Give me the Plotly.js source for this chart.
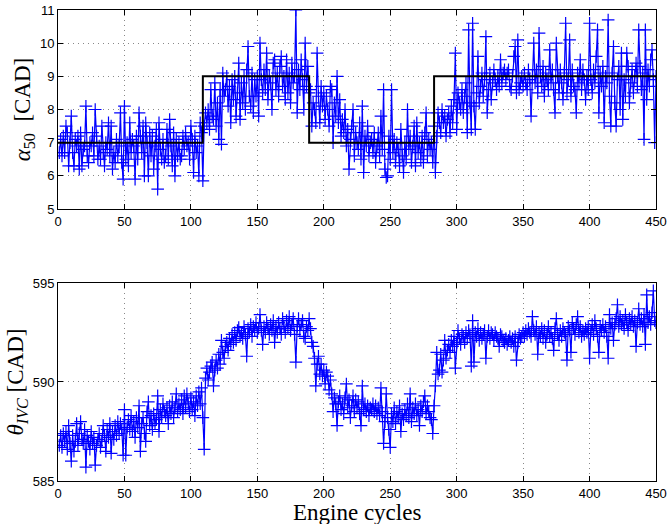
<!DOCTYPE html>
<html>
<head>
<meta charset="utf-8">
<script src="https://cdn.plot.ly/plotly-3.0.1.min.js"></script>
<style>html,body{margin:0;padding:0;background:#fff;}#chart{width:668px;height:524px;}</style>
</head>
<body>
<div id="chart"></div>
<script>
// Engine cycle index 1..450
const cycles = Array.from({length: 450}, (_, i) => i + 1);

// Measured alpha50 [CAD]
const alpha50 = [
6.7,7.1,6.6,7.2,6.7,7.5,7.3,6.3,7.0,7.8,
6.7,6.3,7.1,6.9,7.2,6.2,7.3,6.3,6.8,6.9,
8.1,6.6,6.4,7.0,6.9,7.3,6.6,8.0,7.2,6.5,
6.9,6.5,7.5,6.7,6.3,7.0,6.8,7.6,6.6,7.5,
6.2,6.7,6.4,7.1,6.6,6.9,7.9,6.4,5.9,8.1,
6.5,7.0,6.3,7.6,6.7,7.1,6.9,5.9,7.2,6.5,
7.9,7.2,6.7,7.5,6.0,7.6,7.0,6.0,7.3,6.6,
7.2,6.2,6.9,7.4,5.6,7.6,6.8,6.5,7.1,6.4,
6.6,7.4,6.5,7.7,6.9,6.3,7.3,6.0,7.1,6.6,
7.0,6.5,6.6,7.2,6.8,7.3,6.9,7.0,6.5,7.5,
7.1,6.1,7.2,6.7,6.9,6.0,7.6,7.3,5.85,7.5,
7.9,7.6,8.0,7.4,8.6,7.8,7.7,8.8,7.5,8.2,
7.1,8.6,6.95,9.1,8.4,8.6,9.0,8.1,8.7,7.6,
8.9,8.3,9.0,7.8,8.5,9.4,7.7,8.8,8.2,9.0,
8.0,9.2,9.9,8.4,8.1,9.1,7.9,8.9,8.4,9.0,
7.8,10.0,8.9,8.5,9.2,8.6,9.7,8.3,9.0,8.8,
8.0,9.4,9.5,8.6,9.1,8.4,9.3,9.6,8.7,9.0,
8.3,9.5,8.5,9.1,8.2,9.4,8.8,9.0,11.0,7.9,
9.2,8.6,9.5,8.9,8.0,10.0,8.7,9.3,8.5,8.6,
7.5,8.2,8.0,7.6,9.7,8.4,7.6,8.7,8.1,8.5,
7.7,8.4,8.0,7.5,8.7,8.6,7.0,8.2,7.8,9.0,
7.6,8.3,7.2,7.7,7.3,8.0,6.9,7.4,6.2,7.1,
7.5,8.0,6.6,7.3,7.0,6.8,7.6,6.5,8.1,6.1,
7.2,6.9,7.5,6.6,7.0,7.1,6.7,7.3,6.4,6.9,
7.3,6.6,7.8,6.8,8.6,6.2,5.95,6.0,7.2,6.5,
8.6,6.7,7.1,6.4,7.0,6.8,6.3,7.4,6.6,6.1,
7.0,6.5,8.0,6.8,7.2,6.4,6.9,7.5,6.3,7.6,
6.7,7.0,6.5,7.2,6.4,7.3,7.9,6.6,7.1,6.8,
7.0,6.4,7.5,6.1,7.2,7.9,7.6,7.3,8.0,7.6,
7.8,7.2,7.7,7.9,7.3,8.1,7.6,8.3,9.7,7.4,
8.5,8.2,8.0,8.6,7.9,8.4,8.8,7.3,10.4,8.2,
7.4,10.6,8.1,7.4,8.5,9.6,8.2,8.7,9.1,8.4,
8.9,10.2,7.9,8.6,9.1,8.3,8.8,9.2,8.9,8.6,
9.0,8.7,9.5,8.8,9.1,9.2,8.9,9.1,9.2,8.7,
8.6,9.0,9.6,9.9,8.5,10.1,8.6,8.8,9.0,8.7,
9.1,8.8,8.6,9.2,8.9,7.8,9.0,10.0,8.8,9.2,
8.5,10.3,9.0,8.7,9.3,8.4,9.1,8.9,8.6,9.8,
8.8,9.2,8.6,7.9,10.0,9.0,8.5,9.2,8.8,8.3,
9.1,10.6,8.5,8.9,10.1,8.4,9.2,8.7,8.6,7.9,
9.1,8.8,9.5,8.6,9.2,8.9,8.3,9.0,8.6,10.6,
8.9,8.5,9.2,8.8,9.6,10.4,7.9,9.1,8.7,9.3,
7.6,9.0,8.8,10.7,8.4,7.5,9.1,9.9,8.2,7.5,
8.9,9.3,8.0,9.7,7.7,8.9,8.4,9.7,9.3,8.2,
8.8,9.2,8.5,9.0,9.4,8.7,10.4,9.3,8.6,9.1,
7.1,10.4,8.3,9.2,8.7,9.5,9.8,8.9,7.0,9.0
];

// Reference alpha50 steps (cycle where each level starts, level)
const refCycles = [0, 109, 189, 283, 450];
const refAlpha50 = [7, 9, 7, 9, 9];

// Measured theta_IVC [CAD]
const thetaIVC = [
586.8,587.3,586.7,587.4,587.0,587.5,586.6,587.8,586.9,586.0,
587.3,586.5,587.0,587.9,586.8,587.4,588.0,587.1,586.9,587.6,
585.7,587.3,587.0,586.6,587.5,586.9,587.2,585.8,586.8,587.1,
587.4,586.7,587.0,587.8,587.3,586.5,587.6,587.2,587.9,586.4,
587.5,587.1,587.8,587.3,588.0,587.4,587.9,587.6,586.3,588.6,
586.3,587.7,588.1,587.6,588.3,587.5,588.0,587.2,588.2,587.7,
588.8,586.5,587.9,588.2,587.4,587.0,588.5,589.0,587.8,588.3,
587.6,588.4,587.9,588.1,589.3,587.5,588.6,588.2,588.9,588.5,
588.3,588.7,587.9,588.8,588.4,589.0,588.2,588.7,589.4,588.5,
588.9,588.6,589.1,588.4,589.3,588.7,589.4,588.9,588.5,589.2,
588.6,589.0,588.3,589.3,588.8,589.5,588.9,589.7,588.2,586.6,
590.2,590.7,590.1,590.5,590.8,591.0,589.8,590.6,591.1,590.7,
591.4,590.9,592.1,591.5,591.2,591.8,592.0,591.6,592.2,591.9,
592.4,592.0,592.5,592.1,592.6,592.75,592.3,592.5,592.2,592.8,
592.4,591.3,592.7,592.5,592.9,592.3,592.8,592.6,593.0,592.5,
592.7,593.4,592.6,591.9,592.8,592.5,593.0,592.7,592.4,592.9,
592.6,593.1,592.0,592.8,592.5,593.0,592.7,592.4,593.2,592.8,
592.5,593.1,592.7,593.3,592.6,592.9,593.2,592.4,591.0,592.8,
593.2,592.6,592.9,593.1,592.3,592.2,592.8,592.6,593.2,592.7,
592.0,591.8,591.2,589.8,590.9,591.3,590.4,590.9,590.3,590.6,
589.9,590.5,590.3,589.6,590.1,589.4,588.5,589.2,588.9,587.8,
589.0,589.3,588.6,588.9,588.4,589.2,589.9,588.7,589.1,588.2,
588.8,589.3,588.5,589.1,588.7,589.0,588.4,587.8,589.8,588.6,
588.9,588.5,588.8,588.3,588.7,588.6,588.9,588.5,588.8,588.4,
588.7,588.3,589.7,588.5,586.9,588.0,589.4,588.2,587.6,586.7,
588.4,588.0,588.7,587.9,588.5,588.2,588.8,587.5,588.4,588.1,
588.6,588.3,588.9,588.2,589.4,588.0,588.7,588.4,588.9,588.3,
588.6,587.8,588.8,588.5,589.0,589.3,588.4,588.8,588.5,588.2,
588.1,587.4,588.8,589.8,591.5,590.4,590.6,591.4,590.5,591.1,
592.1,591.2,591.6,591.9,591.5,592.1,591.8,592.3,590.7,592.0,
592.6,592.2,591.9,592.4,592.3,592.0,592.5,592.2,592.6,592.4,
590.8,593.1,591.0,592.5,592.3,592.7,592.1,592.5,592.2,592.4,
592.6,591.2,592.3,592.6,592.2,592.5,592.4,592.1,592.5,592.3,
592.2,591.8,592.4,592.3,592.1,592.0,592.2,591.9,592.1,592.3,
592.0,592.2,591.8,592.3,591.1,592.0,592.4,592.2,592.3,592.5,
592.3,592.6,592.4,592.7,592.5,592.3,593.3,592.6,592.4,592.8,
591.4,592.5,592.3,592.7,592.2,592.6,592.0,592.4,592.8,592.3,
592.5,592.2,591.6,592.7,593.2,592.4,592.1,592.6,592.3,592.7,
592.5,592.4,591.1,592.8,592.6,591.5,593.0,592.7,592.4,592.9,
593.3,592.5,592.8,592.3,592.6,592.4,592.7,592.5,592.8,591.2,
592.6,592.9,592.4,593.1,592.7,592.3,591.5,592.8,592.6,592.9,
592.5,592.8,592.3,591.2,593.4,592.7,593.0,592.1,592.9,593.2,
593.9,592.8,593.3,592.9,593.1,592.7,593.4,593.0,592.6,593.2,
592.9,593.3,592.8,593.1,591.8,593.0,593.7,592.9,593.2,592.8,
593.4,591.9,594.4,593.0,593.3,592.9,593.5,594.6,593.1,593.0
];

// Axis ticks
const xTicks = [0, 50, 100, 150, 200, 250, 300, 350, 400, 450];
const yTicksTop = [5, 6, 7, 8, 9, 10, 11];
const yTicksBottom = [585, 590, 595];

const blue = '#0000ff';
const measStyle = {
  mode: 'lines+markers',
  line: {color: blue, width: 1.2},
  marker: {symbol: 'cross-thin', size: 9, line: {color: blue, width: 1.2}, color: blue},
  showlegend: false, hoverinfo: 'skip'
};

const traces = [
  Object.assign({x: cycles, y: alpha50, xaxis: 'x', yaxis: 'y'}, measStyle),
  {x: refCycles, y: refAlpha50, xaxis: 'x', yaxis: 'y', mode: 'lines',
   line: {color: '#000', width: 2, shape: 'hv'}, showlegend: false, hoverinfo: 'skip'},
  Object.assign({x: cycles, y: thetaIVC, xaxis: 'x2', yaxis: 'y2'}, measStyle)
];

const tickFont = {family: 'Liberation Sans, Arial, sans-serif', size: 13, color: '#000'};
const axBase = {
  showline: true, linecolor: '#000', linewidth: 1, mirror: 'ticks',
  ticks: 'inside', ticklen: 5, tickcolor: '#000', tickwidth: 1,
  showgrid: true, gridcolor: '#888', griddash: '1px,4px', gridwidth: 1,
  zeroline: false, tickfont: tickFont
};
const yTitleFont = {family: 'Liberation Serif, Times New Roman, serif', size: 23, color: '#000'};
const xTitleFont = {family: 'Liberation Serif, Times New Roman, serif', size: 23, color: '#000'};

const layout = {
  width: 668, height: 524,
  margin: {l: 58, r: 12, t: 10, b: 43},
  paper_bgcolor: '#fff', plot_bgcolor: '#fff',
  xaxis: Object.assign({}, axBase, {domain: [0, 1], range: [0, 450], tickvals: xTicks, anchor: 'y'}),
  yaxis: Object.assign({}, axBase, {domain: [0.5775, 1], range: [5, 11], tickvals: yTicksTop, anchor: 'x',
    title: {text: '<i>α</i><sub>50</sub>&nbsp;&nbsp;[CAD]', font: yTitleFont, standoff: 2}}),
  xaxis2: Object.assign({}, axBase, {domain: [0, 1], range: [0, 450], tickvals: xTicks, anchor: 'y2'}),
  yaxis2: Object.assign({}, axBase, {domain: [0, 0.4204], range: [585, 595], tickvals: yTicksBottom, anchor: 'x2',
    title: {text: '<i>θ</i><sub><i>IVC</i></sub> [CAD]', font: yTitleFont, standoff: 2}}),
  annotations: [{
    text: 'Engine cycles', xref: 'paper', yref: 'paper', x: 0.5, y: -0.0385,
    xanchor: 'center', yanchor: 'top', showarrow: false, font: xTitleFont, borderpad: 0
  }]
};

Plotly.newPlot('chart', traces, layout, {staticPlot: true, displayModeBar: false});
</script>
</body>
</html>
